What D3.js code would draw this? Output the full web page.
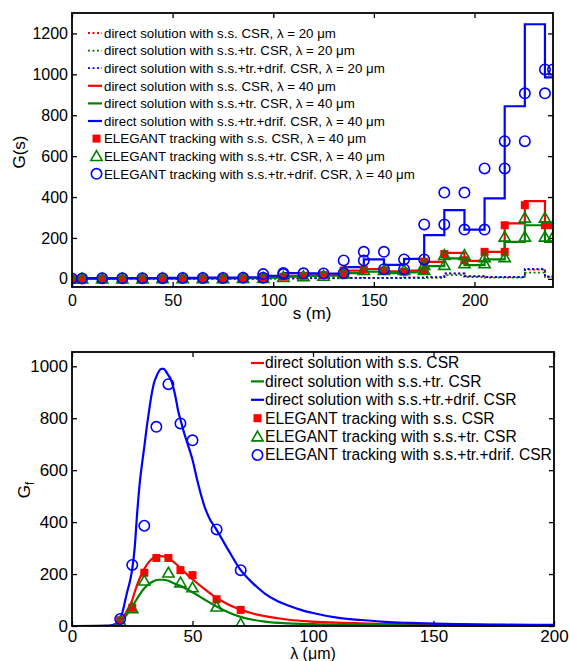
<!DOCTYPE html>
<html><head><meta charset="utf-8">
<script src="https://cdn.jsdelivr.net/npm/d3@7"></script>
<style>body{margin:0;background:#fff}svg{display:block}text{font-family:"Liberation Sans",Arial,Helvetica,sans-serif}</style>
</head><body><svg id="c" width="570" height="661"></svg>
<script>
// ---------------- DATA: top chart (gain vs s) ----------------
const sBounds = [0,5,15,25,35,45,55,65,75,85,95,105,115,125,135,145,155,165,175,185,195,205,215,225,235,239];
// levels per interval (between consecutive sBounds)
const red20   = [0.5,0.5,0.5,1,1,1,1,1,1.5,1.5,2,2,3,3,4,5,5,6,8,25,12,8,8,45,10];
const green20 = [0.5,0.5,0.5,1,1,1,1,1,1,1,1.5,2,2,2,3,3,3,4,5,18,9,6,6,30,8];
const blue20  = [0.5,0.5,0.5,1,1,1,1,1,1.5,1.5,2,2,3,3,4,5,5,6,8,27,13,9,9,48,12];
const red40   = [1,1,1,2,2,2,3,3,3,4,8,14,17,18,40,48,36,40,83,127,88,132,271,380,265];
const green40 = [1,1,1,2,2,2,2,3,3,3,6,11,14,15,28,35,28,32,62,100,67,95,181,262,181];
const blue40  = [2,3,3,4,4,5,5,6,6,7,15,28,27,26,57,95,68,98,214,336,241,393,844,1245,985];
const elegRed = [[0,1],[5,1],[15,1],[25,1],[35,2],[45,2],[55,2],[65,2],[75,3],[85,3],[95,4],[105,10],[115,15],[125,18],[135,18],[135,40],[145,45],[155,40],[165,35],[175,40],[175,83],[185,121],[195,91],[205,132],[215,132],[215,262],[225,360],[235,262],[239,262]];
const elegGreen = [[0,1],[5,1],[15,1],[25,1],[35,1],[45,2],[55,2],[65,2],[75,2],[85,3],[95,3],[105,8],[115,12],[125,14],[135,25],[145,42],[155,42],[165,42],[175,42],[175,67],[185,67],[185,116],[195,116],[195,75],[205,75],[205,105],[215,105],[215,205],[225,205],[225,298],[235,298],[235,205],[239,205]];
const elegBlue = [[0,2],[5,2],[15,3],[25,3],[35,3],[45,3],[55,4],[65,4],[75,4],[85,5],[95,5],[95,23],[105,23],[105,29],[115,27],[125,26],[135,29],[135,90],[145,90],[145,132],[155,132],[155,47],[165,47],[165,95],[175,95],[175,266],[185,266],[185,422],[195,422],[195,241],[205,241],[205,540],[215,540],[215,673],[225,673],[225,907],[235,907],[235,1024],[239,1024]];
const topXTicks = [0,50,100,150,200];
const topYTicks = [0,200,400,600,800,1000,1200];

// ---------------- DATA: bottom chart (final gain vs lambda) ----------------
const curveRed = [[0,0],[15,0.3],[17,2],[19,10],[20,18],[21,30],[22,45],[24,80],[25,100],[26,130],[28,182],[30,220],[32,248],[34,264],[36,270],[38,268],[40,260],[42,248],[44,232],[46,214],[48,196],[50,180],[55,142],[60,108],[65,82],[70,63],[75,48],[80,38],[90,24],[100,17],[120,10],[150,6],[200,3]];
const curveGreen = [[0,0],[15,0.3],[17,2],[19,8],[20,14],[22,35],[24,60],[26,90],[28,120],[30,145],[32,162],[34,173],[36,178],[38,178],[40,174],[42,166],[44,158],[46,150],[48,140],[50,130],[55,102],[60,75],[65,52],[70,35],[75,24],[80,17],[90,10],[100,7],[120,4],[150,2],[200,1]];
const curveBlue = [[0,0],[10,0],[14,0.5],[16,2],[18,8],[19,15],[20,28],[21,55],[22,95],[23,135],[24,170],[25,220],[26,300],[27,430],[28,540],[29,620],[30,690],[31,765],[32,830],[33,890],[34,935],[35,960],[36,980],[37,990],[38,990],[39,980],[40,965],[41,950],[42,920],[43,880],[44,830],[45,795],[46,760],[48,700],[50,640],[52,560],[54,490],[55,460],[57,415],[60,370],[65,290],[70,215],[75,165],[80,125],[85,97],[90,78],[95,62],[100,50],[110,32],[120,23],[130,16],[140,12],[150,9],[160,7],[180,5],[200,4]];
const ptsRed = [[20,22],[25,70],[30,205],[35,262],[40,262],[45,215],[50,196],[60,103],[70,62]];
const ptsGreen = [[20,18],[25,68],[30,174],[40,205],[45,167],[50,148],[60,74],[70,8]];
const ptsBlue = [[20,27],[25,235],[30,386],[35,767],[40,931],[45,780],[50,715],[60,372],[70,215]];
const botXTicks = [0,50,100,150,200];
const botYTicks = [0,200,400,600,800,1000];

const topLegend = [
  "direct solution with s.s. CSR, λ = 20 μm",
  "direct solution with s.s.+tr. CSR, λ = 20 μm",
  "direct solution with s.s.+tr.+drif. CSR, λ = 20 μm",
  "direct solution with s.s. CSR, λ = 40 μm",
  "direct solution with s.s.+tr. CSR, λ = 40 μm",
  "direct solution with s.s.+tr.+drif. CSR, λ = 40 μm",
  "ELEGANT tracking with s.s. CSR, λ = 40 μm",
  "ELEGANT tracking with s.s.+tr. CSR, λ = 40 μm",
  "ELEGANT tracking with s.s.+tr.+drif. CSR, λ = 40 μm"];
const botLegend = [
  "direct solution with s.s. CSR",
  "direct solution with s.s.+tr. CSR",
  "direct solution with s.s.+tr.+drif. CSR",
  "ELEGANT tracking with s.s. CSR",
  "ELEGANT tracking with s.s.+tr. CSR",
  "ELEGANT tracking with s.s.+tr.+drif. CSR"];

// ---------------- DRAW ----------------
const RED="#ff0000", GREEN="#008000", BLUE="#0000ff";
const svg = d3.select("#c");

function stepPts(levels){ const p = levels.map((v,i)=>[sBounds[i],v]); p.push([sBounds[sBounds.length-1], levels[levels.length-1]]); return p; }

function marker(g, type, x, y, color){
  if(type==="sq") g.append("rect").attr("x",x-4).attr("y",y-4).attr("width",8).attr("height",8).attr("fill",color);
  else if(type==="tri") g.append("path").attr("d",d3.symbol().type(d3.symbolTriangle).size(55)()).attr("transform",`translate(${x},${y+1})`).attr("fill","none").attr("stroke",color).attr("stroke-width",1.6);
  else g.append("circle").attr("cx",x).attr("cy",y).attr("r",5.2).attr("fill","none").attr("stroke",color).attr("stroke-width",1.6);
}

function frame(x, y, xT, yT, fs, pad, id){
  const [x0,x1]=x.range(), [y1,y0]=y.range();
  const gx = svg.append("g").attr("transform",`translate(0,${y1})`).call(d3.axisBottom(x).tickValues(xT).tickSize(-5).tickPadding(pad).tickFormat(d3.format("d")));
  const gxt = svg.append("g").attr("transform",`translate(0,${y0})`).call(d3.axisTop(x).tickValues(xT).tickSize(-5).tickFormat(""));
  const gy = svg.append("g").attr("transform",`translate(${x0},0)`).call(d3.axisLeft(y).tickValues(yT).tickSize(-5).tickPadding(4).tickFormat(d3.format("d")));
  const gyr = svg.append("g").attr("transform",`translate(${x1},0)`).call(d3.axisRight(y).tickValues(yT).tickSize(-5).tickFormat(""));
  [gx,gxt,gy,gyr].forEach(g=>{ g.select(".domain").remove(); g.selectAll("line").attr("stroke","#000").attr("stroke-width",1.3); g.selectAll("text").attr("font-size",fs).attr("fill","#000").style("font-family","'Liberation Sans',Arial,sans-serif"); });
  svg.append("defs").append("clipPath").attr("id",id).append("rect").attr("x",x0).attr("y",y0).attr("width",x1-x0).attr("height",y1-y0);
}
function box(x,y){ const [x0,x1]=x.range(), [y1,y0]=y.range();
  svg.append("rect").attr("x",x0).attr("y",y0).attr("width",x1-x0).attr("height",y1-y0).attr("fill","none").attr("stroke","#000").attr("stroke-width",1.8); }

// fit a legend font size so that a reference row has the target width
function fitSize(g, text, base, target){
  const t = g.append("text").attr("font-size",base).text(text);
  const w = t.node().getComputedTextLength(); t.remove();
  return w>0 ? base*target/w : base;
}

// ---- top chart ----
const xT = d3.scaleLinear().domain([0,239]).range([72,553]);
const yT = d3.scaleLinear().domain([-40,1300]).range([287,13]);
frame(xT,yT,topXTicks,topYTicks,16,8,"clipT");
const gT = svg.append("g").attr("clip-path","url(#clipT)");
const stepLine = d3.line().x(d=>xT(d[0])).y(d=>yT(d[1])).curve(d3.curveStepAfter);
[[red20,RED],[green20,GREEN],[blue20,BLUE]].forEach(([a,c])=>gT.append("path").attr("d",stepLine(stepPts(a))).attr("fill","none").attr("stroke",c).attr("stroke-width",1.8).attr("stroke-dasharray","2,2.5"));
[[red40,RED],[green40,GREEN],[blue40,BLUE]].forEach(([a,c])=>gT.append("path").attr("d",stepLine(stepPts(a))).attr("fill","none").attr("stroke",c).attr("stroke-width",2.2));
elegRed.forEach(d=>marker(gT,"sq",xT(d[0]),yT(d[1]),RED));
elegGreen.forEach(d=>marker(gT,"tri",xT(d[0]),yT(d[1]),GREEN));
elegBlue.forEach(d=>marker(gT,"circ",xT(d[0]),yT(d[1]),BLUE));
box(xT,yT);
// legend
const lgT = svg.append("g");
const fsT = fitSize(lgT, topLegend[0], 13.3, 232);
const tColors=[RED,GREEN,BLUE,RED,GREEN,BLUE,RED,GREEN,BLUE];
topLegend.forEach((t,i)=>{
  const yy = 33 + i*17.6;
  if(i<3) lgT.append("line").attr("x1",88).attr("x2",102).attr("y1",yy).attr("y2",yy).attr("stroke",tColors[i]).attr("stroke-width",1.8).attr("stroke-dasharray","2,2.5");
  else if(i<6) lgT.append("line").attr("x1",88).attr("x2",102).attr("y1",yy).attr("y2",yy).attr("stroke",tColors[i]).attr("stroke-width",2.2);
  else marker(lgT,["sq","tri","circ"][i-6],96.5,yy,tColors[i]);
  lgT.append("text").attr("x",104).attr("y",yy+4.7).attr("font-size",fsT).text(t);
});
svg.append("text").attr("x",312).attr("y",319).attr("text-anchor","middle").attr("font-size",17).text("s (m)");
svg.append("text").attr("transform","translate(25,152) rotate(-90)").attr("text-anchor","middle").attr("font-size",17).text("G(s)");

// ---- bottom chart ----
const xB = d3.scaleLinear().domain([0,200]).range([72,554]);
const yB = d3.scaleLinear().domain([0,1055]).range([626,352]);
frame(xB,yB,botXTicks,botYTicks,17,4,"clipB");
const gB = svg.append("g").attr("clip-path","url(#clipB)");
const cLine = d3.line().x(d=>xB(d[0])).y(d=>yB(d[1])).curve(d3.curveMonotoneX);
[[curveRed,RED],[curveGreen,GREEN],[curveBlue,BLUE]].forEach(([a,c])=>gB.append("path").attr("d",cLine(a)).attr("fill","none").attr("stroke",c).attr("stroke-width",2.2));
ptsRed.forEach(d=>marker(gB,"sq",xB(d[0]),yB(d[1]),RED));
ptsGreen.forEach(d=>marker(gB,"tri",xB(d[0]),yB(d[1]),GREEN));
ptsBlue.forEach(d=>marker(gB,"circ",xB(d[0]),yB(d[1]),BLUE));
box(xB,yB);
const lgB = svg.append("g");
const fsB = fitSize(lgB, botLegend[5], 15.5, 287);
const bColors=[RED,GREEN,BLUE,RED,GREEN,BLUE];
botLegend.forEach((t,i)=>{
  const yy = 363 + i*18.4;
  if(i<3) lgB.append("line").attr("x1",251).attr("x2",264).attr("y1",yy).attr("y2",yy).attr("stroke",bColors[i]).attr("stroke-width",2.2);
  else marker(lgB,["sq","tri","circ"][i-3],257.5,yy,bColors[i]);
  lgB.append("text").attr("x",265).attr("y",yy+5.4).attr("font-size",fsB).text(t);
});
const xl = svg.append("text").attr("x",313).attr("y",659).attr("text-anchor","middle").attr("font-size",16);
xl.text("λ (μm)");
const yl = svg.append("text").attr("transform","translate(30,490) rotate(-90)").attr("text-anchor","middle").attr("font-size",17);
yl.append("tspan").text("G");
yl.append("tspan").attr("font-size",12).attr("dy",4).text("f");
</script></body></html>
